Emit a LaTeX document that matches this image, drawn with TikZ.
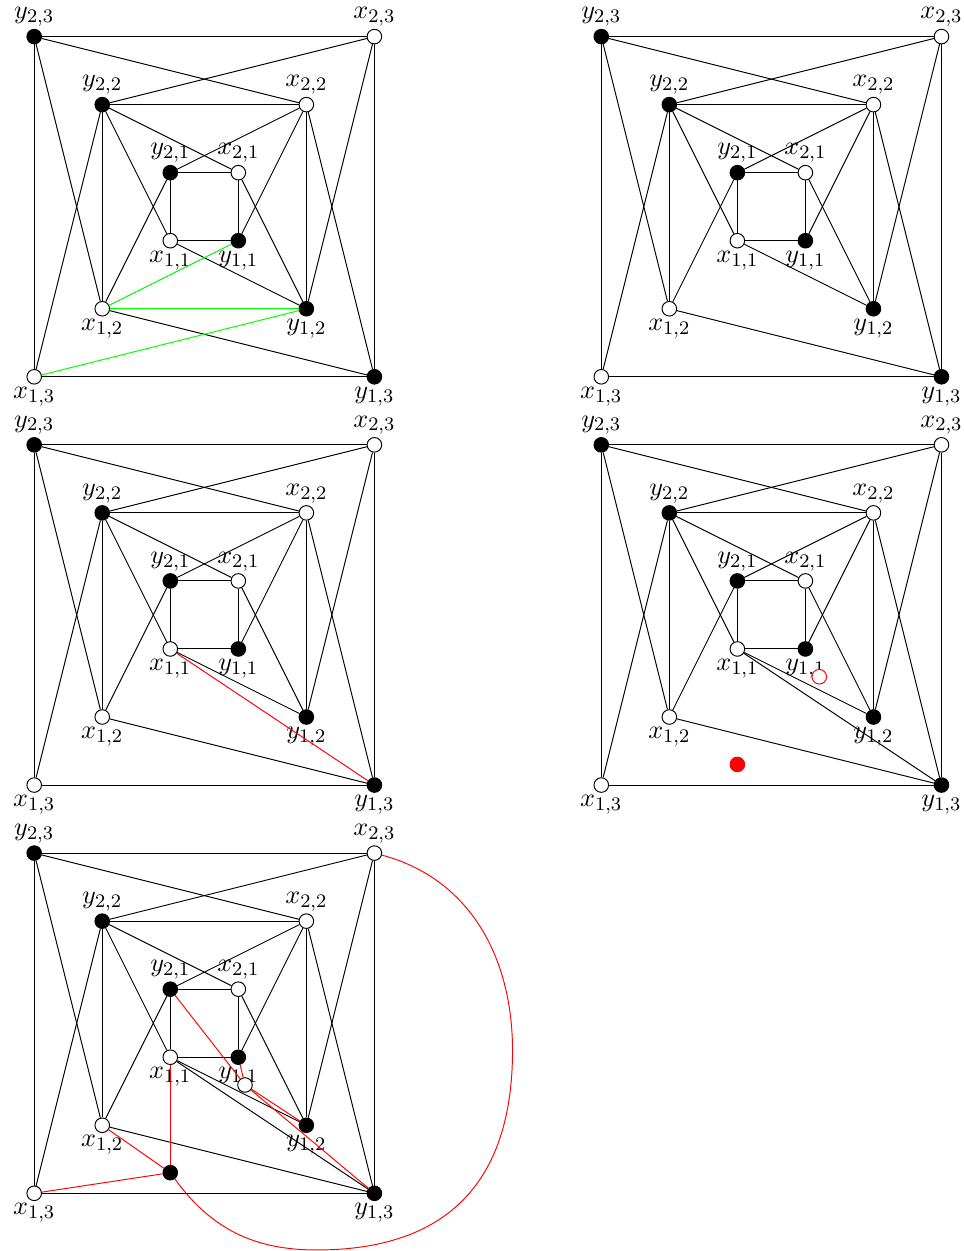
\documentclass[tikz,border=0pt]{standalone}
\newcommand{\basegraph}[2]{%
 \begin{scope}[shift={#2}]
  \node[wn,label=below:$x_{1,3}$] (#1x13) at (0,0) {};
  \node[bn,label=below:$y_{1,3}$] (#1y13) at (5,0) {};
  \node[bn,label=above:$y_{2,3}$] (#1y23) at (0,5) {};
  \node[wn,label=above:$x_{2,3}$] (#1x23) at (5,5) {};
  \node[wn,label=below:$x_{1,2}$] (#1x12) at (1,1) {};
  \node[bn,label=below:$y_{1,2}$] (#1y12) at (4,1) {};
  \node[bn,label=above:$y_{2,2}$] (#1y22) at (1,4) {};
  \node[wn,label=above:$x_{2,2}$] (#1x22) at (4,4) {};
  \node[wn,label=below:$x_{1,1}$] (#1x11) at (2,2) {};
  \node[bn,label=below:$y_{1,1}$] (#1y11) at (3,2) {};
  \node[bn,label=above:$y_{2,1}$] (#1y21) at (2,3) {};
  \node[wn,label=above:$x_{2,1}$] (#1x21) at (3,3) {};
  \foreach \a/\b in {y23/x23,x23/y13,y13/x13,x13/y23,
     y22/x22,x22/y12,y22/x12,
     y21/x21,x21/y11,y11/x11,x11/y21,
     y23/x22,y23/x12,x23/y22,x23/y12,x13/y22,y13/x22,y13/x12,
     y22/x11,y22/x21,x22/y21,x22/y11,x12/y21,y12/x11,y12/x21}
     {\draw[ln] (#1\a) -- (#1\b);}
 \end{scope}}
\begin{document}
\begin{tikzpicture}[x=1cm,y=1cm,
  every label/.style={inner sep=0.8pt,font=\fontsize{10.95}{13}\selectfont},
  vtx/.style={circle,draw=black,line width=0.4pt,inner sep=0pt,minimum size=6.1pt},
  wn/.style={vtx,fill=white},
  bn/.style={vtx,fill=black},
  ln/.style={black,line width=0.4pt},
  gln/.style={green,line width=0.4pt},
  rln/.style={red,line width=0.4pt}]
\useasboundingbox (0,0) rectangle (14.168,18.386);

% panel 1
\basegraph{a}{(0.5026,12.848)}
\draw[gln] (ax12) -- (ay11);
\draw[gln] (ax12) -- (ay12);
\draw[gln] (ax13) -- (ay12);

% panel 2
\basegraph{b}{(8.837,12.848)}

% panel 3
\basegraph{c}{(0.5026,6.848)}
\draw[rln] (cx11) -- (cy13);

% panel 4
\basegraph{d}{(8.837,6.848)}
\draw[ln] (dx11) -- (dy13);
\begin{scope}[shift={(8.837,6.848)}]
  \node[vtx,draw=red,fill=white] (dz) at (3.204,1.592) {};
  \node[vtx,draw=red,fill=red] (dw) at (2.0,0.303) {};
\end{scope}

% panel 5
\basegraph{e}{(0.5026,0.848)}
\draw[ln] (ex11) -- (ey13);
\begin{scope}[shift={(0.5026,0.848)}]
  \node[wn] (ez) at (3.098,1.592) {};
  \node[bn] (ew) at (2.0,0.303) {};
  \coordinate (eR) at (7.03,2.1);
  \coordinate (eB) at (4.15,-0.833);
\end{scope}
\draw[rln] (ex13) -- (ew);
\draw[rln] (ex12) -- (ew);
\draw[rln] (ex11) -- (ew);
\draw[rln] (ey21) -- (ez);
\draw[rln] (ey11) -- (ez);
\draw[rln] (ez) -- (ey12);
\draw[rln] (ez) -- (ey13);
\draw[rln] (ex23) to[out=-15,in=90] (eR) to[out=-90,in=0,looseness=1.2] (eB) to[out=180,in=-54] (ew);
\end{tikzpicture}
\end{document}
